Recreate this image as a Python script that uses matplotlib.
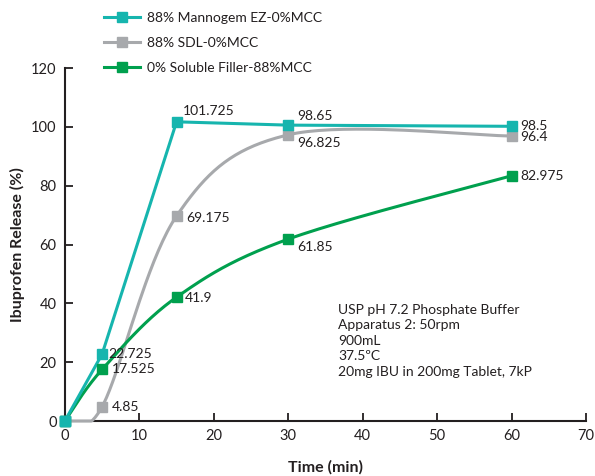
import numpy as np
import matplotlib
matplotlib.use("Agg")
import matplotlib.pyplot as plt
from matplotlib.lines import Line2D

plt.rcParams['font.family'] = ['Lato', 'DejaVu Sans']

time = [0, 5, 15, 30, 60]
series_names = ["88% Mannogem EZ-0%MCC", "88% SDL-0%MCC", "0% Soluble Filler-88%MCC"]
mannogem = [0, 22.725, 101.725, 100.6, 100.2]
sdl = [0, 4.85, 69.7, 97.3, 96.9]
filler = [0, 17.525, 42.1, 61.85, 83.4]
mannogem_labels = ["", "22.725", "101.725", "98.65", "98.5"]
sdl_labels = ["", "4.85", "69.175", "96.825", "96.4"]
filler_labels = ["", "17.525", "41.9", "61.85", "82.975"]
note_lines = ["USP pH 7.2 Phosphate Buffer", "Apparatus 2: 50rpm", "900mL",
              "37.5ºC", "20mg IBU in 200mg Tablet, 7kP"]

teal = "#16b5ae"
gray = "#a7a9ac"
green = "#00a04e"
txt = "#231f20"


def excel_smooth(x, y, n=40):
    x = np.asarray(x, float)
    y = np.asarray(y, float)
    P = np.column_stack([x, y])
    out = [P[0]]
    m = len(P)
    for i in range(m - 1):
        p0 = P[i - 1] if i > 0 else P[i]
        p1 = P[i]
        p2 = P[i + 1]
        p3 = P[i + 2] if i + 2 < m else P[i + 1]
        c1 = p1 + (p2 - p0) / 6
        c2 = p2 - (p3 - p1) / 6
        t = np.linspace(0, 1, n)[1:, None]
        seg = ((1 - t) ** 3) * p1 + 3 * ((1 - t) ** 2) * t * c1 + 3 * (1 - t) * t ** 2 * c2 + t ** 3 * p2
        out.extend(seg)
    out = np.array(out)
    return out[:, 0], np.maximum(out[:, 1], 0)


fig = plt.figure(figsize=(5.95, 4.76), dpi=100)
ax = fig.add_axes([0.109, 0.1155, 0.876, 0.7415])

lw = 2.2
ms = 7

# Mannogem: straight segments
ax.plot(time, mannogem, color=teal, lw=lw, zorder=3, clip_on=False)
ax.plot(time, mannogem, ls='none', marker='s', ms=ms, color=teal, zorder=5, clip_on=False)
# SDL: smoothed
sx, sy = excel_smooth(time, sdl)
ax.plot(sx, sy, color=gray, lw=lw, zorder=2, clip_on=False)
ax.plot(time, sdl, ls='none', marker='s', ms=ms, color=gray, zorder=4, clip_on=False)
# Filler: smoothed
fx, fy = excel_smooth(time, filler)
ax.plot(fx, fy, color=green, lw=lw, zorder=2, clip_on=False)
ax.plot(time, filler, ls='none', marker='s', ms=ms, color=green, zorder=4, clip_on=False)
# redraw origin teal marker on top
ax.plot(time[:1], mannogem[:1], ls='none', marker='s', ms=ms, color=teal, zorder=6, clip_on=False)

label_offsets = {
    "m": [None, (6, 0), (6, 11), (9, 9), (9, 0)],
    "s": [None, (10, 0), (10, -2), (9, -8), (9, -1)],
    "f": [None, (10, 0), (8, -1), (9, -8), (9, 0)],
}
for key, vals, labs in (("m", mannogem, mannogem_labels), ("s", sdl, sdl_labels), ("f", filler, filler_labels)):
    for i, (xv, yv, lab) in enumerate(zip(time, vals, labs)):
        if not lab:
            continue
        ax.annotate(lab, (xv, yv), xytext=label_offsets[key][i], textcoords='offset pixels',
                    ha='left', va='center', fontsize=10, color=txt, zorder=7)

ax.set_xlim(0, 70)
ax.set_ylim(0, 120)
ax.set_xticks(range(0, 71, 10))
ax.set_yticks(range(0, 121, 20))
ax.tick_params(direction='in', length=6, width=1.3, labelsize=10.5, colors=txt, pad=6)
for s in ('top', 'right'):
    ax.spines[s].set_visible(False)
for s in ('left', 'bottom'):
    ax.spines[s].set_linewidth(1.5)
    ax.spines[s].set_color(txt)
    ax.spines[s].set_zorder(1)

ax.set_xlabel("Time (min)", fontsize=11.5, fontweight='bold', color=txt, labelpad=12)
ax.set_ylabel("Ibuprofen Release (%)", fontsize=11.5, fontweight='bold', color=txt, labelpad=4)

ax.text(36.7, 39.8, "\n".join(note_lines), ha='left', va='top', fontsize=10, color=txt,
        linespacing=1.35, transform=ax.transData)

handles = [Line2D([], [], color=c, lw=lw, marker='s', ms=ms) for c in (teal, gray, green)]
fig.legend(handles, series_names, loc='upper left', bbox_to_anchor=(0.155, 1.0),
           frameon=False, fontsize=10, handlelength=2.6, handletextpad=0.5,
           labelspacing=0.95, borderaxespad=0.45, labelcolor=txt)

fig.savefig("out.png", dpi=100)
